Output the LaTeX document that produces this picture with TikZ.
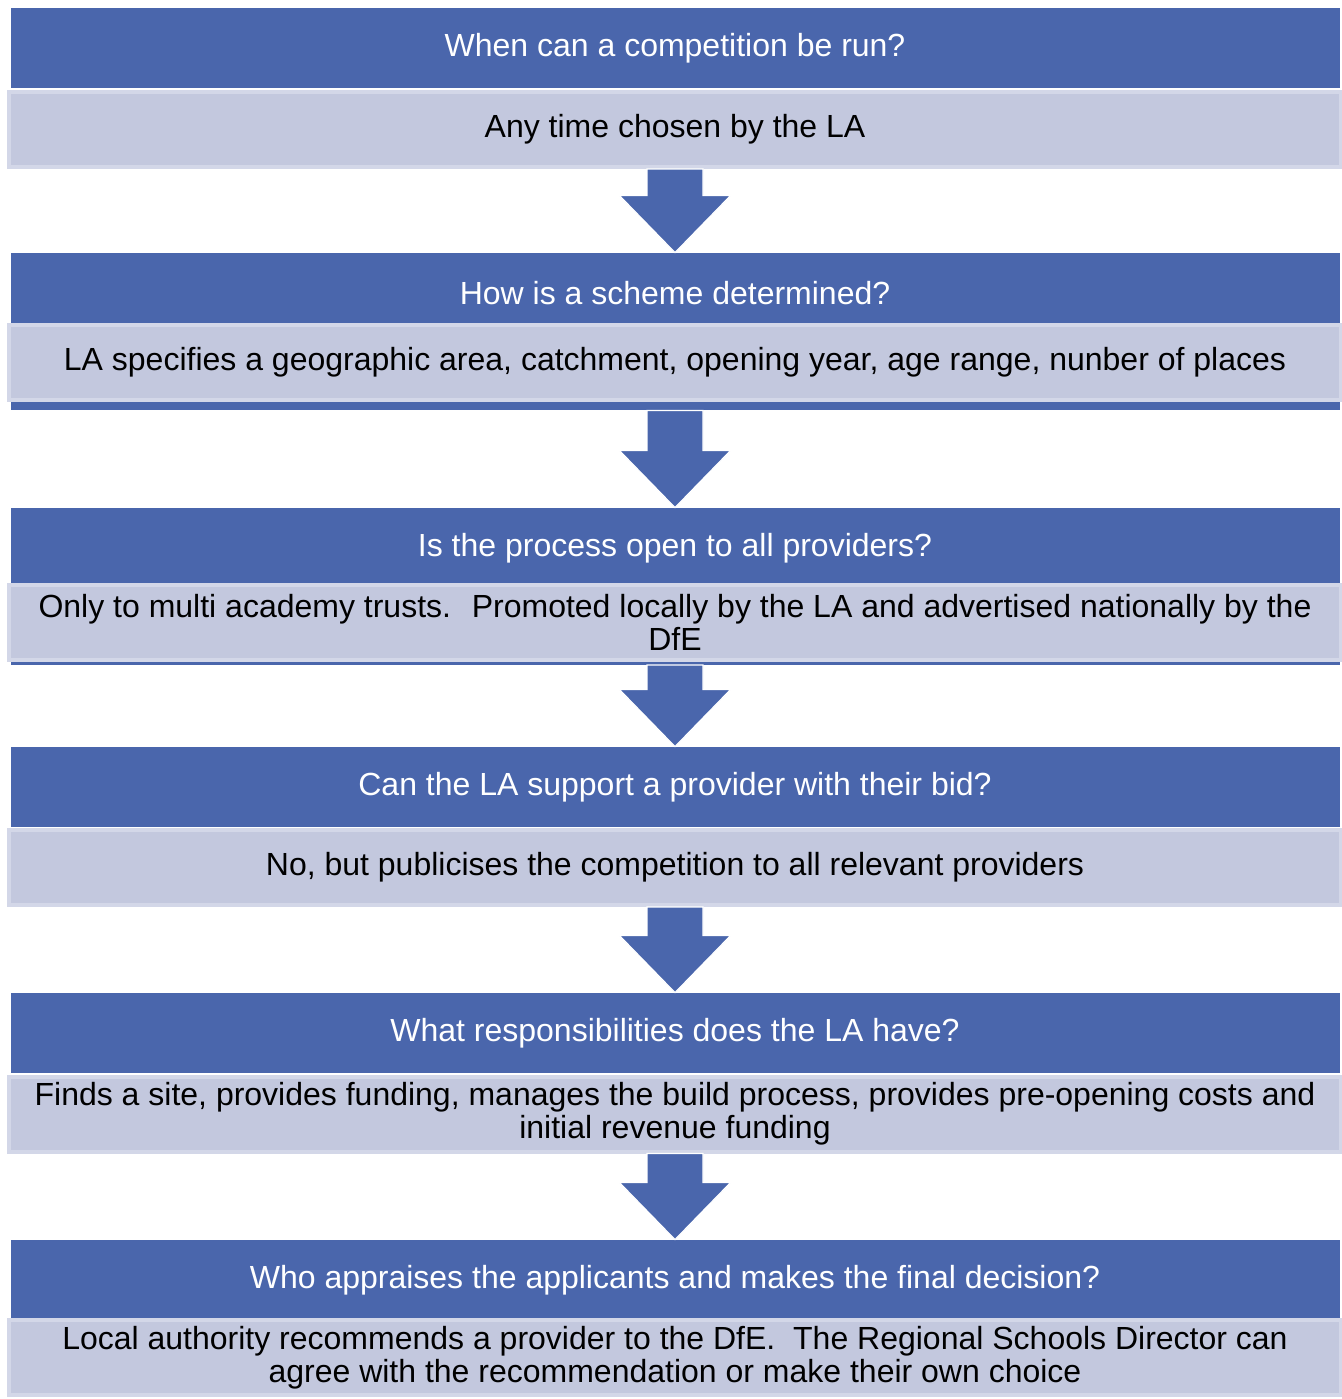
\documentclass[tikz,border=0pt]{standalone}
\usepackage{fontspec}
\setmainfont{Liberation Sans}
\usetikzlibrary{calc}

\definecolor{qblue}{HTML}{4A66AC}
\definecolor{afill}{HTML}{C3C8DE}
\definecolor{aline}{HTML}{D3D7E8}

\tikzset{
  question/.style={fill=qblue,text=white,minimum width=664.5pt,minimum height=40pt,inner sep=0pt,font=\fontsize{16}{16.5}\selectfont},
  answer/.style={fill=afill,draw=aline,line width=2pt,minimum width=666pt,minimum height=37.5pt,inner sep=0pt,align=center,font=\fontsize{16}{16.5}\selectfont},
  strip/.style={fill=qblue,minimum width=664.5pt,inner sep=0pt},
  flow/.style={fill=qblue,draw=white,line width=0.6pt}
}

\begin{document}
\begin{tikzpicture}[x=0.5pt,y=-0.5pt]
    \useasboundingbox (0,0) rectangle (1342,1399);

    \node[question] (q1) at (675,48) {When can a competition be run?};
    \node[answer] (a1) [below of=q1,node distance=40.75pt] {Any time chosen by the LA};

    \node[question] (q2) [below of=a1,node distance=81.75pt] {How is a scheme determined?};
    \node[answer] (a2) [below of=q2,node distance=34.75pt] {LA specifies a geographic area, catchment, opening year, age range, nunber of places};
    \node[strip,minimum height=4pt] (s2) [below of=a2,node distance=21.75pt] {};

    \node[question] (q3) [below of=a2,node distance=92.75pt] {Is the process open to all providers?};
    \node[answer] (a3) [below of=q3,node distance=37pt] {Only to multi academy trusts.~ Promoted locally by the LA and advertised nationally by the\\DfE};
    \node[strip,minimum height=1.5pt] (s3) [below of=a3,node distance=20.5pt] {};

    \node[question] (q4) [below of=a3,node distance=82.5pt] {Can the LA support a provider with their bid?};
    \node[answer] (a4) [below of=q4,node distance=40.25pt] {No, but publicises the competition to all relevant providers};

    \node[question] (q5) [below of=a4,node distance=82.75pt] {What responsibilities does the LA have?};
    \node[answer] (a5) [below of=q5,node distance=40.5pt] {Finds a site, provides funding, manages the build process, provides pre-opening costs and\\initial revenue funding};

    \node[question] (q6) [below of=a5,node distance=83pt] {Who appraises the applicants and makes the final decision?};
    \node[answer] (a6) [below of=q6,node distance=38.75pt] {Local authority recommends a provider to the DfE.~ The Regional Schools Director can\\agree with the recommendation or make their own choice};

    % block arrows between the stages
    \filldraw[flow] let \p1=(a1.south), \p2=(q2.north) in
        (\x1-14pt,\y1) -- (\x1+14pt,\y1) -- (\x1+14pt,\y2+28.5pt) -- (\x1+27.75pt,\y2+28.5pt)
        -- (\x2,\y2) -- (\x1-27.75pt,\y2+28.5pt) -- (\x1-14pt,\y2+28.5pt) -- cycle;
    \filldraw[flow] let \p1=(s2.south), \p2=(q3.north) in
        (\x1-14pt,\y1) -- (\x1+14pt,\y1) -- (\x1+14pt,\y2+28.5pt) -- (\x1+27.75pt,\y2+28.5pt)
        -- (\x2,\y2) -- (\x1-27.75pt,\y2+28.5pt) -- (\x1-14pt,\y2+28.5pt) -- cycle;
    \filldraw[flow] let \p1=(s3.south), \p2=(q4.north) in
        (\x1-14pt,\y1) -- (\x1+14pt,\y1) -- (\x1+14pt,\y2+28.5pt) -- (\x1+27.75pt,\y2+28.5pt)
        -- (\x2,\y2) -- (\x1-27.75pt,\y2+28.5pt) -- (\x1-14pt,\y2+28.5pt) -- cycle;
    \filldraw[flow] let \p1=(a4.south), \p2=(q5.north) in
        (\x1-14pt,\y1) -- (\x1+14pt,\y1) -- (\x1+14pt,\y2+28.5pt) -- (\x1+27.75pt,\y2+28.5pt)
        -- (\x2,\y2) -- (\x1-27.75pt,\y2+28.5pt) -- (\x1-14pt,\y2+28.5pt) -- cycle;
    \filldraw[flow] let \p1=(a5.south), \p2=(q6.north) in
        (\x1-14pt,\y1) -- (\x1+14pt,\y1) -- (\x1+14pt,\y2+28.5pt) -- (\x1+27.75pt,\y2+28.5pt)
        -- (\x2,\y2) -- (\x1-27.75pt,\y2+28.5pt) -- (\x1-14pt,\y2+28.5pt) -- cycle;
\end{tikzpicture}
\end{document}
